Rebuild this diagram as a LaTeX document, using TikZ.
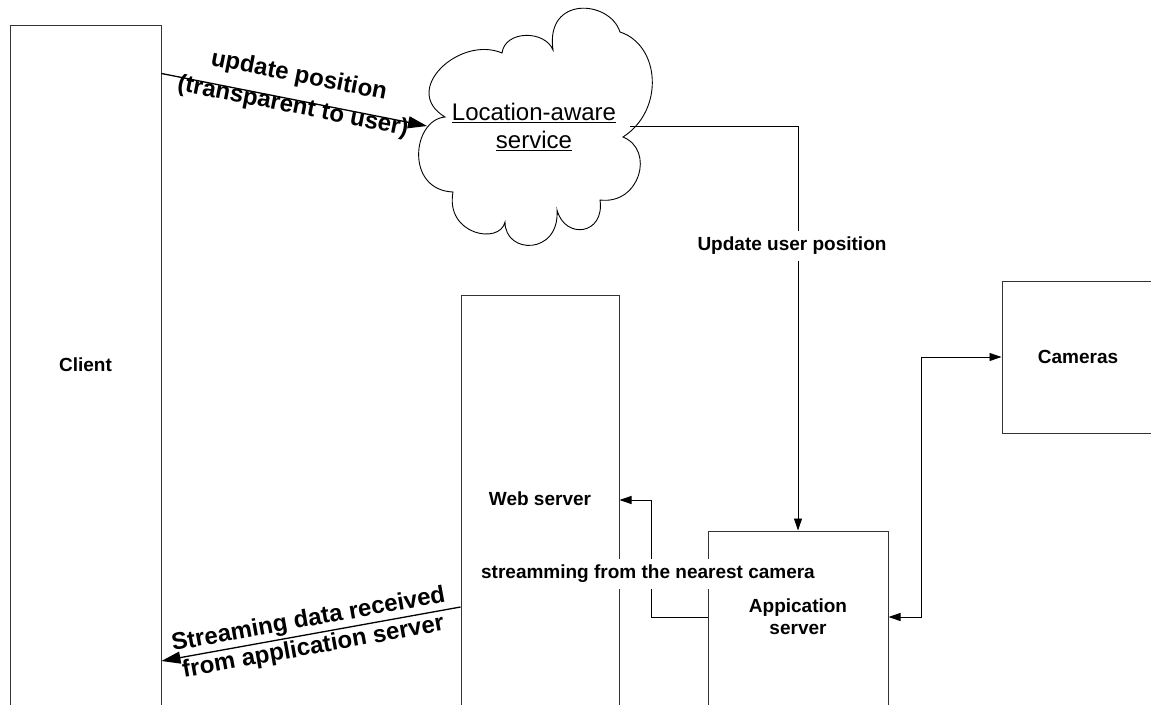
\documentclass[tikz,border=0pt]{standalone}
\usepackage{fontspec}
\setmainfont{Liberation Sans}
\usetikzlibrary{arrows.meta,calc}
\begin{document}
\begin{tikzpicture}[x=1pt,y=-1pt,
  box/.style={draw=black!80, line width=1pt, rectangle, inner sep=0pt, fill=white},
  lbl/.style={font=\bfseries\fontsize{19}{22}\selectfont, align=center, inner sep=0pt},
  wlbl/.style={font=\bfseries\fontsize{19}{22}\selectfont, fill=white, inner xsep=1pt, inner ysep=6pt},
  arr/.style={draw=black, line width=0.9pt, -{Triangle[length=12pt,width=8pt]}},
  dblarr/.style={draw=black, line width=0.9pt, {Triangle[length=12pt,width=8pt]}-{Triangle[length=12pt,width=8pt]}},
  bigarr/.style={draw=black, line width=1.3pt, -{Triangle[length=19pt,width=12pt]}},
  biglbl/.style={font=\bfseries\fontsize{24}{27}\selectfont, align=center, inner sep=0pt}
]
\useasboundingbox (0,0) rectangle (1151,704);
\fill[white] (0,0) rectangle (1151,704);
\clip (0,0) rectangle (1151,704);

% boxes
\node[box, minimum width=151pt, minimum height=695pt] (client) at (85.5,372.5) {};
\node[lbl] (clientlbl) at (85.5,365) {Client};

\node[box, minimum width=158pt, minimum height=425pt] (web) at (540,507.5) {};
\node[lbl] (weblbl) at (540,499) {Web server};

\node[box, minimum width=180pt, minimum height=189pt] (app) at (798,625.5) {};
\node[lbl] (applbl) at (798,617) {Appication\\server};

\node[box, minimum width=170pt, minimum height=152pt] (cam) at (1087,357) {};
\node[lbl] (camlbl) at (1078,357) {Cameras};

% cloud
\draw[black, line width=0.9pt, fill=white]
  (445,117) .. controls (412,120) and (405,190) .. (453,192)
  .. controls (445,235) and (500,245) .. (505,222)
  .. controls (505,255) and (560,255) .. (557,210)
  .. controls (565,240) and (605,235) .. (600,200)
  .. controls (640,205) and (655,150) .. (623,137)
  .. controls (665,110) and (660,45) .. (620,32)
  .. controls (610,0) and (545,-5) .. (553,50)
  .. controls (545,30) and (505,30) .. (502,53)
  .. controls (460,35) and (400,90) .. (445,117) -- cycle;
\node[font=\fontsize{24}{28}\selectfont, align=center, inner sep=0pt] (loc) at (534,127)
  {\underline{Location-aware}\\\underline{service}};
\coordinate (cloudL) at (427,126);
\coordinate (cloudR) at (630,126);

% connectors
\draw[bigarr] ([yshift=-49pt]client.north east) -- (cloudL)
  node[midway, sloped, above=-19pt, biglbl, font=\bfseries\fontsize{24}{31}\selectfont] {update position\\(transparent to user)};

\draw[arr] (cloudR) -| (app.north);
\node[wlbl] (updlbl) at (792,246) {Update user position};

\draw[arr] ([yshift=8.5pt]app.west) -- ++(-56,0) |- ([yshift=7.5pt]web.east);
\node[wlbl] (strlbl) at (648,574) {streamming from the nearest camera};

\draw[dblarr] ([yshift=8.5pt]app.east) -- ++(33,0) |- (cam.west);

\draw[bigarr] ([yshift=-99.5pt]web.west) -- ([yshift=-288.5pt]client.east)
  node[midway, sloped, biglbl, font=\bfseries\fontsize{24}{28}\selectfont] {Streaming data received\\from application server};
\end{tikzpicture}
\end{document}
